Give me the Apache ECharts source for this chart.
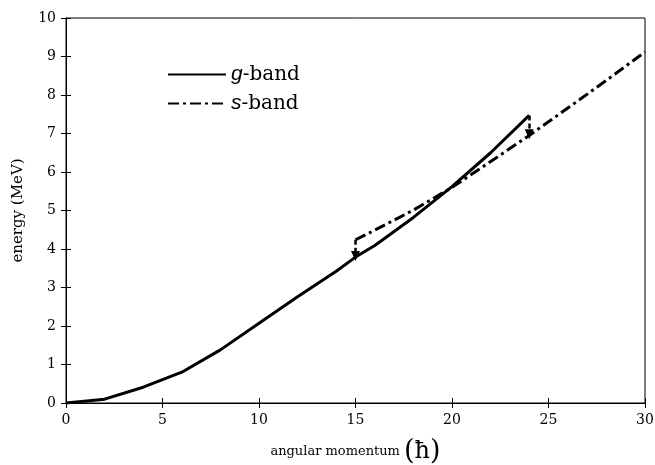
<!DOCTYPE html>
<html>
<head>
<meta charset="utf-8">
<script src="https://cdn.jsdelivr.net/npm/echarts@6/dist/echarts.min.js"></script>
<style>html,body{margin:0;padding:0;background:#fff}#c{width:655px;height:465px}</style>
</head>
<body>
<div id="c"></div>
<script>
var gSpin = [0, 2, 4, 6, 8, 10, 12, 14, 15, 16, 18, 20, 22, 24];
var gEnergy = [0, 0.1, 0.41, 0.8, 1.38, 2.07, 2.76, 3.42, 3.79, 4.09, 4.82, 5.62, 6.5, 7.47];
var sSpin = [15, 16, 18, 20, 22, 24, 26, 28, 30];
var sEnergy = [4.24, 4.49, 5.01, 5.6, 6.27, 6.95, 7.66, 8.38, 9.12];
var arrowSpin = [15, 24];
var arrowFrom = [4.24, 7.47];
var arrowTo = [3.82, 6.98];
var xTicks = [0, 5, 10, 15, 20, 25, 30];
var yTicks = [0, 1, 2, 3, 4, 5, 6, 7, 8, 9, 10];

function pairs(xs, ys) { return xs.map(function (x, i) { return [x, ys[i]]; }); }

var serif = 'DejaVu Serif';
var chart = echarts.init(document.getElementById('c'));
var arrowLines = arrowSpin.map(function (x, i) {
  return [{ coord: [x, arrowFrom[i]] }, { coord: [x, arrowTo[i]] }];
});

chart.setOption({
  animation: false,
  grid: { left: 66, right: 10, top: 18, bottom: 62, show: true, borderColor: '#000', borderWidth: 1,
    outerBoundsMode: 'none', containLabel: false },
  legend: {
    left: 162, top: 59, orient: 'vertical', itemWidth: 58, itemHeight: 14, itemGap: 8,
    itemStyle: { opacity: 0 },
    data: ['g-band', 's-band'],
    formatter: function (n) { return '{i|' + n.charAt(0) + '}{n|' + n.slice(1) + '}'; },
    textStyle: {
      rich: {
        i: { fontFamily: 'Liberation Sans', fontStyle: 'italic', fontSize: 21, color: '#000' },
        n: { fontFamily: serif, fontSize: 20, color: '#000' }
      }
    }
  },
  xAxis: [{
    type: 'value', min: 0, max: 30, interval: 5,
    name: 'angular momentum {p|(}{h|ħ}{p|)}', nameLocation: 'middle', nameGap: 35,
    nameTextStyle: { fontFamily: serif, fontSize: 13, color: '#000',
      rich: { p: { fontFamily: serif, fontSize: 27, color: '#000' }, h: { fontFamily: serif, fontSize: 24, color: '#000' } } },
    axisLine: { show: true, lineStyle: { color: '#000', width: 1 } },
    axisTick: { show: true, inside: true, length: 5, lineStyle: { color: '#000' } },
    axisLabel: { fontFamily: serif, fontSize: 14, color: '#000', margin: 10 },
    splitLine: { show: false }
  }, {
    type: 'value', min: 0, max: 30, interval: 5, position: 'top',
    axisLine: { show: true, lineStyle: { color: '#000', width: 1 } },
    axisTick: { show: true, inside: true, length: 5, lineStyle: { color: '#000' } },
    axisLabel: { show: false }, splitLine: { show: false }
  }],
  yAxis: [{
    type: 'value', min: 0, max: 10, interval: 1,
    name: 'energy (MeV)', nameLocation: 'middle', nameGap: 40,
    nameTextStyle: { fontFamily: serif, fontSize: 15, color: '#000' },
    axisLine: { show: true, lineStyle: { color: '#000', width: 1 } },
    axisTick: { show: true, inside: true, length: 5, lineStyle: { color: '#000' } },
    axisLabel: { fontFamily: serif, fontSize: 14, color: '#000', margin: 10 },
    splitLine: { show: false }
  }, {
    type: 'value', min: 0, max: 10, interval: 1, position: 'right',
    axisLine: { show: true, lineStyle: { color: '#000', width: 1 } },
    axisTick: { show: true, inside: true, length: 5, lineStyle: { color: '#000' } },
    axisLabel: { show: false }, splitLine: { show: false }
  }],
  series: [{
    name: 'g-band', type: 'line', data: pairs(gSpin, gEnergy), showSymbol: false, symbol: 'none',
    lineStyle: { color: '#000', width: 3 }, itemStyle: { color: '#000' },
    markLine: {
      silent: true, symbol: ['none', 'triangle'], symbolSize: [9, 10],
      label: { show: false },
      lineStyle: { color: '#000', width: 2.5, type: [5, 3] },
      data: arrowLines
    }
  }, {
    name: 's-band', type: 'line', data: pairs(sSpin, sEnergy), showSymbol: false, symbol: 'none',
    lineStyle: { color: '#000', width: 3, type: [11, 4, 3, 4] }, itemStyle: { color: '#000' }
  }]
});
</script>
</body>
</html>
